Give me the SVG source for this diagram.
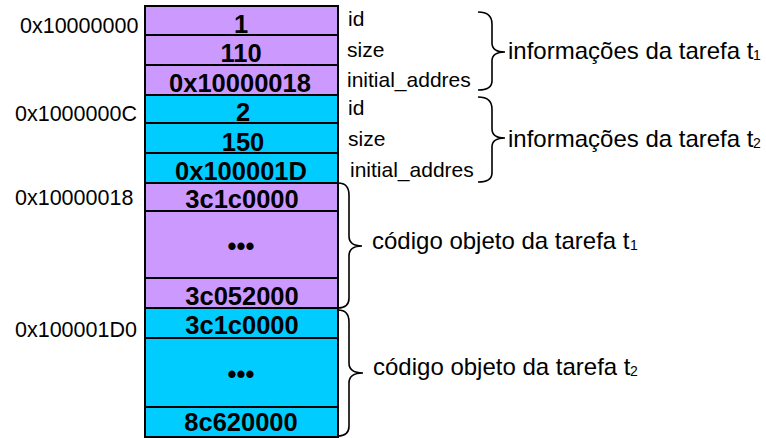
<svg xmlns="http://www.w3.org/2000/svg" width="766" height="438" viewBox="0 0 766 438">
<style>
text{font-family:"Liberation Sans",Arial,sans-serif;fill:#000}
.cell rect{stroke:#000;stroke-width:2}
.p rect{fill:#CC99FF}
.c rect{fill:#00CCFF}
.val{font-size:25.5px;font-weight:bold;text-anchor:middle}
.addr{font-size:21.5px}
.fld{font-size:21px}
.lbl{font-size:24px}
.sub{font-size:14px}
.brace{fill:none;stroke:#000;stroke-width:1.6}
</style>
<rect x="0" y="0" width="766" height="438" fill="#fff"/>
<g id="memory">
<g id="cell1" class="cell p"><rect x="145" y="6" width="193" height="29"/><text class="val" x="241" y="33">1</text></g>
<g id="cell2" class="cell p"><rect x="145" y="35" width="193" height="30"/><text class="val" x="241" y="62">110</text></g>
<g id="cell3" class="cell p"><rect x="145" y="65" width="193" height="30"/><text class="val" x="240" y="92">0x10000018</text></g>
<g id="cell4" class="cell c"><rect x="145" y="95" width="193" height="28"/><text class="val" x="243" y="121">2</text></g>
<g id="cell5" class="cell c"><rect x="145" y="123" width="193" height="30"/><text class="val" x="243" y="151">150</text></g>
<g id="cell6" class="cell c"><rect x="145" y="153" width="193" height="30"/><text class="val" x="241" y="180">0x100001D</text></g>
<g id="cell7" class="cell p"><rect x="145" y="183" width="193" height="28"/><text class="val" x="242" y="208">3c1c0000</text></g>
<g id="cell8" class="cell p"><rect x="145" y="211" width="193" height="67"/><text class="val" x="241" y="255">•••</text></g>
<g id="cell9" class="cell p"><rect x="145" y="278" width="193" height="30"/><text class="val" x="242" y="305">3c052000</text></g>
<g id="cell10" class="cell c"><rect x="145" y="308" width="193" height="30"/><text class="val" x="242" y="334">3c1c0000</text></g>
<g id="cell11" class="cell c"><rect x="145" y="338" width="193" height="69"/><text class="val" x="241" y="383">•••</text></g>
<g id="cell12" class="cell c"><rect x="145" y="407" width="193" height="30"/><text class="val" x="241" y="431">8c620000</text></g>
</g>
<g id="addresses">
<text class="addr" x="20" y="33">0x10000000</text>
<text class="addr" x="15" y="121">0x1000000C</text>
<text class="addr" x="15" y="205">0x10000018</text>
<text class="addr" x="15" y="337">0x100001D0</text>
</g>
<g id="fields">
<text class="fld" x="348" y="26">id</text>
<text class="fld" x="347" y="57">size</text>
<text class="fld" x="347" y="87">initial_addres</text>
<text class="fld" x="348" y="115">id</text>
<text class="fld" x="348" y="146">size</text>
<text class="fld" x="350" y="177">initial_addres</text>
</g>
<g id="connectors">
<path class="brace" d="M478,12 C488,12 492,16 492,24 L492,43 C492,49 496,52 505,52 C496,52 492,55 492,61 L492,81 C492,87 488,90 478,90"/>
<path class="brace" d="M478,97 C488,97 492,101 492,109 L492,129 C492,135 496,138 505,138 C496,138 492,141 492,147 L492,173 C492,179 488,182 478,182"/>
<path class="brace" d="M338,183 C345,183 349,187 349,195 L349,236 C349,242 353,246 362,246 C353,246 349,250 349,256 L349,298 C349,305 345,308 338,308"/>
<path class="brace" d="M338,310 C345,310 349,314 349,322 L349,363 C349,369 353,373 363,373 C353,373 349,377 349,383 L349,426 C349,433 345,436 338,436"/>
</g>
<g id="labels">
<text class="lbl" x="508" y="59">informações da tarefa t<tspan class="sub" x="753" y="60">1</tspan></text>
<text class="lbl" x="508" y="147">informações da tarefa t<tspan class="sub" x="753" y="148">2</tspan></text>
<text class="lbl" x="372" y="249">código objeto da tarefa t<tspan class="sub" x="630" y="250">1</tspan></text>
<text class="lbl" x="373" y="375">código objeto da tarefa t<tspan class="sub" x="630" y="376">2</tspan></text>
</g>
</svg>
